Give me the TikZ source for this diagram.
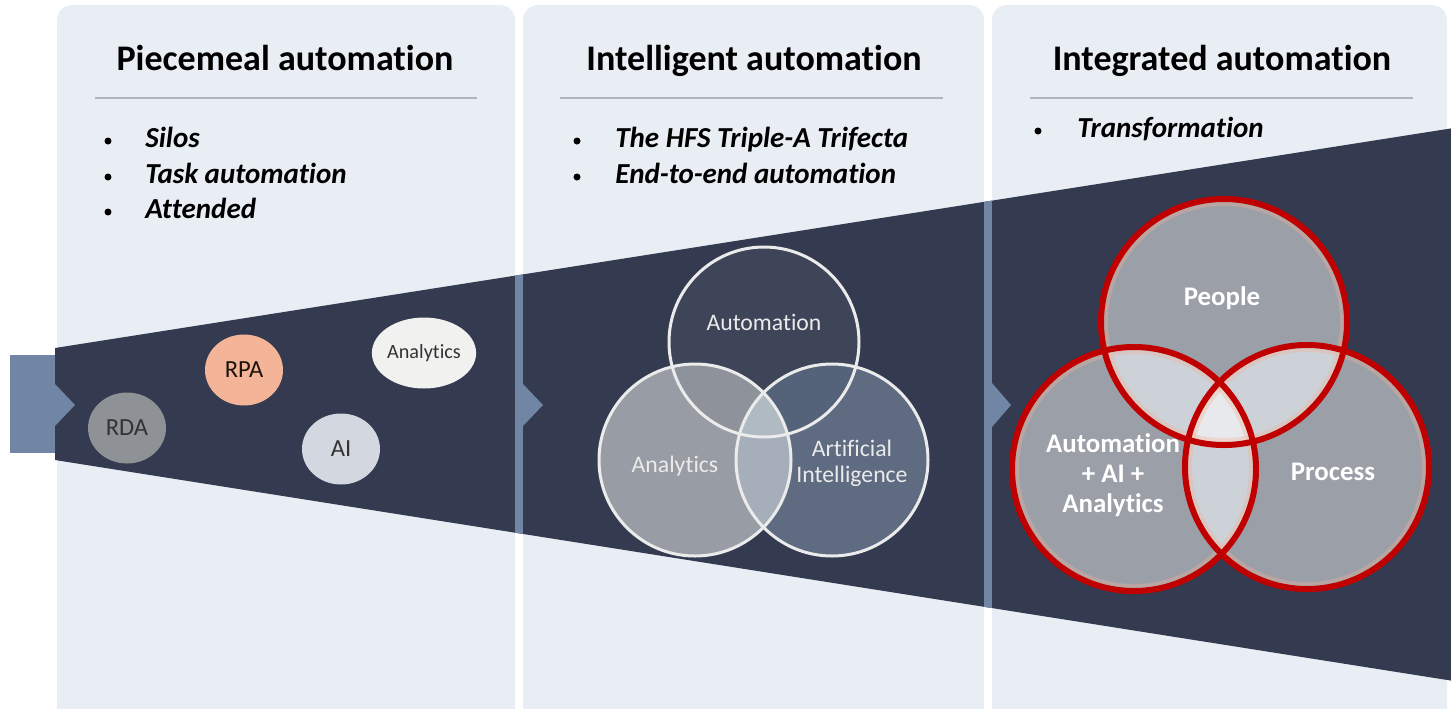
\documentclass[tikz,border=0pt]{standalone}
\usepackage{fontspec}
\setmainfont{Carlito}[Ligatures=CommonOff]
\usetikzlibrary{positioning, shapes.geometric}
\usepackage{xcolor}

\definecolor{panelbg}{HTML}{E8EEF4}
\definecolor{funnel}{HTML}{343A4F}
\definecolor{slate}{HTML}{7185A5}
\definecolor{rulegray}{HTML}{AEB5BE}
\definecolor{rdagray}{HTML}{8E9196}
\definecolor{rpapeach}{HTML}{F3B497}
\definecolor{aiblue}{HTML}{D3D8E0}
\definecolor{anawhite}{HTML}{F1F1F0}
\definecolor{autfill}{HTML}{3F4559}
\definecolor{anafill}{HTML}{989CA4}
\definecolor{aifill}{HTML}{5E6B81}
\definecolor{autana}{HTML}{8D929B}
\definecolor{autai}{HTML}{55637A}
\definecolor{anaai}{HTML}{A6AFB9}
\definecolor{allthree}{HTML}{B0BAC3}
\definecolor{ringred}{HTML}{C00000}
\definecolor{ringgray}{HTML}{9A9FA8}
\definecolor{ringpair}{HTML}{CDD1D8}
\definecolor{ringall}{HTML}{E8E9EC}

\begin{document}
\begin{tikzpicture}[x=0.02cm, y=-0.02cm,
	title/.style={anchor=base, font=\fontsize{20.5}{24}\selectfont\bfseries},
	item/.style={anchor=base west, inner sep=0pt, font=\fontsize{16.5}{20}\selectfont\bfseries\itshape},
	dot/.style={circle, fill=black, inner sep=0pt, minimum size=0.14cm},
	bubble/.style={ellipse, inner sep=0pt, minimum width=1.56cm, minimum height=1.42cm, text=black!80, font=\fontsize{14}{16}\selectfont},
	vennlabel/.style={text=white!92!black, align=center, font=\fontsize{13.5}{15}\selectfont},
	ringlabel/.style={text=white, align=center, font=\fontsize{15.3}{17}\selectfont\bfseries}]

	\useasboundingbox (0,0) rectangle (1451,708);
	\clip (0,0) rectangle (1451,708);

	% panels
	\fill[panelbg, rounded corners=0.3cm] (57,5) rectangle (515,740);
	\fill[panelbg, rounded corners=0.3cm] (523,5) rectangle (984,740);
	\fill[panelbg, rounded corners=0.3cm] (992,5) rectangle (1447,740);

	% funnel
	\fill[funnel] (55,348) -- (1460,127) -- (1460,682) -- (55,460) -- cycle;
	\begin{scope}
		\clip (55,348) -- (1460,127) -- (1460,682) -- (55,460) -- cycle;
		\fill[slate] (515,0) rectangle (523,708);
		\fill[slate] (984,0) rectangle (992,708);
	\end{scope}
	\fill[slate] (10,355) rectangle (55,453);
	\fill[slate] (55,384) -- (75,405) -- (55,426) -- cycle;
	\fill[slate] (523,384) -- (543,405) -- (523,426) -- cycle;
	\fill[slate] (992,383) -- (1011,405) -- (992,427) -- cycle;

	\begin{scope}
		\node[title] (t1) at (285,70) {Piecemeal automation};
		\draw[rulegray, line width=0.04cm] (95,98) -- (477,98);
		\node[dot] (d11) at (108,141) {};
		\node[item] (b11) at (145,147) {Silos};
		\node[dot] (d12) at (108,177) {};
		\node[item] (b12) at (145,183) {Task automation};
		\node[dot] (d13) at (108,212) {};
		\node[item] (b13) at (145,218) {Attended};

		\node[bubble, fill=rdagray] (rda) at (127,428) {RDA};
		\node[bubble, fill=rpapeach, text=black!85!brown] (rpa) at (244,370) {RPA};
		\node[bubble, fill=anawhite, font=\fontsize{11.5}{13}\selectfont] (ana) at (424,353) {Analytics};
		\node[bubble, fill=aiblue] (ai) at (341,449) {AI};
	\end{scope}

	\begin{scope}
		\node[title] (t2) at (754,70) {Intelligent automation};
		\draw[rulegray, line width=0.04cm] (560,98) -- (943,98);
		\node[dot] (d21) at (577,141) {};
		\node[item] (b21) at (615,147) {The HFS Triple-A Trifecta};
		\node[dot] (d22) at (577,177) {};
		\node[item] (b22) at (615,183) {End-to-end automation};

		\fill[autfill] (764,342) circle[radius=95];
		\fill[anafill] (695,460) circle[radius=96];
		\fill[aifill] (832,460) circle[radius=96];
		\begin{scope}
			\clip (764,342) circle[radius=95];
			\fill[autana] (695,460) circle[radius=96];
			\fill[autai] (832,460) circle[radius=96];
		\end{scope}
		\begin{scope}
			\clip (695,460) circle[radius=96];
			\fill[anaai] (832,460) circle[radius=96];
			\clip (764,342) circle[radius=95];
			\fill[allthree] (832,460) circle[radius=96];
		\end{scope}
		\draw[white!92!black, line width=0.06cm] (764,342) circle[radius=95];
		\draw[white!92!black, line width=0.06cm] (695,460) circle[radius=96];
		\draw[white!92!black, line width=0.06cm] (832,460) circle[radius=96];

		\node[vennlabel] (l21) at (764,322) {Automation};
		\node[vennlabel] (l22) at (675,466) {Analytics};
		\node[vennlabel] (l23) at (852,463) {Artificial\\Intelligence};
	\end{scope}

	\begin{scope}
		\node[title] (t3) at (1222,70) {Integrated automation};
		\draw[rulegray, line width=0.04cm] (1030,98) -- (1413,98);
		\node[dot] (d31) at (1038,131) {};
		\node[item] (b31) at (1077,137) {Transformation};

		\fill[ringgray] (1224,322) circle[radius=123];
		\fill[ringgray] (1134,469) circle[radius=122];
		\fill[ringgray] (1307,467) circle[radius=122];
		\begin{scope}
			\clip (1224,322) circle[radius=123];
			\fill[ringpair] (1134,469) circle[radius=122];
			\fill[ringpair] (1307,467) circle[radius=122];
		\end{scope}
		\begin{scope}
			\clip (1134,469) circle[radius=122];
			\fill[ringpair] (1307,467) circle[radius=122];
			\clip (1224,322) circle[radius=123];
			\fill[ringall] (1307,467) circle[radius=122];
		\end{scope}
		\draw[rpapeach, opacity=0.35, line width=0.08cm] (1224,322) circle[radius=118];
		\draw[rpapeach, opacity=0.35, line width=0.08cm] (1134,469) circle[radius=117];
		\draw[rpapeach, opacity=0.35, line width=0.08cm] (1307,467) circle[radius=117];
		\draw[ringred, line width=0.12cm] (1224,322) circle[radius=123];
		\draw[ringred, line width=0.12cm] (1134,469) circle[radius=122];
		\draw[ringred, line width=0.12cm] (1307,467) circle[radius=122];

		\node[ringlabel] (l31) at (1222,298) {People};
		\node[ringlabel] (l32) at (1113,475) {Automation\\+ AI +\\Analytics};
		\node[ringlabel] (l33) at (1333,472) {Process};
	\end{scope}
\end{tikzpicture}
\end{document}
